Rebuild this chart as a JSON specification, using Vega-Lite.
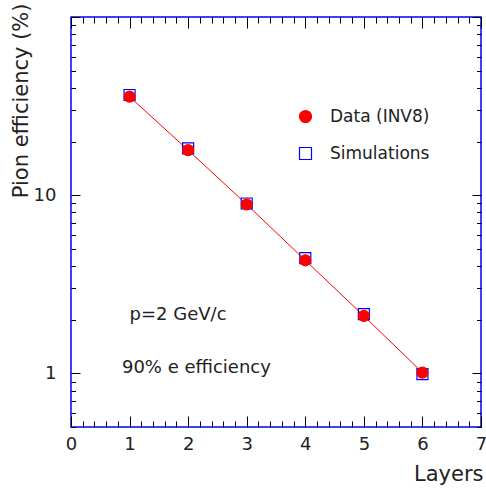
{
  "$schema": "https://vega.github.io/schema/vega-lite/v6.json",
  "width": 410,
  "height": 410,
  "autosize": {"type": "none"},
  "padding": {"left": 71, "top": 17, "right": 5, "bottom": 64},
  "background": "white",
  "config": {
    "font": "DejaVu Sans",
    "view": {"stroke": "#0000ff", "strokeWidth": 1.5},
    "legend": {
      "orient": "none",
      "legendX": 226,
      "legendY": 91,
      "padding": 0,
      "symbolSize": 144,
      "symbolStrokeWidth": 1.2,
      "labelFontSize": 17,
      "labelColor": "#222222",
      "labelOffset": 16,
      "rowPadding": 19,
      "title": null
    }
  },
  "datasets": {
    "points": [
      {"layer": 1, "eff": 36.5, "series": "Simulations"},
      {"layer": 2, "eff": 18.3, "series": "Simulations"},
      {"layer": 3, "eff": 8.98, "series": "Simulations"},
      {"layer": 4, "eff": 4.43, "series": "Simulations"},
      {"layer": 5, "eff": 2.15, "series": "Simulations"},
      {"layer": 6, "eff": 0.99, "series": "Simulations"},
      {"layer": 1, "eff": 35.7, "series": "Data (INV8)"},
      {"layer": 2, "eff": 17.9, "series": "Data (INV8)"},
      {"layer": 3, "eff": 8.87, "series": "Data (INV8)"},
      {"layer": 4, "eff": 4.31, "series": "Data (INV8)"},
      {"layer": 5, "eff": 2.10, "series": "Data (INV8)"},
      {"layer": 6, "eff": 1.01, "series": "Data (INV8)"}
    ],
    "notes": [
      {"layer": 1.0, "eff": 2.13, "text": "p=2 GeV/c"},
      {"layer": 0.87, "eff": 1.07, "text": "90% e efficiency"}
    ]
  },
  "layer": [
    {
      "data": {"name": "points"},
      "transform": [{"filter": "datum.series === 'Data (INV8)'"}],
      "mark": {"type": "line", "color": "#ff0000", "strokeWidth": 1},
      "encoding": {
        "x": {
          "field": "layer", "type": "quantitative",
          "scale": {"domain": [0, 7], "nice": false, "zero": false},
          "axis": {
            "orient": "bottom",
            "values": [0,0.2,0.4,0.6,0.8,1,1.2,1.4,1.6,1.8,2,2.2,2.4,2.6,2.8,3,3.2,3.4,3.6,3.8,4,4.2,4.4,4.6,4.8,5,5.2,5.4,5.6,5.8,6,6.2,6.4,6.6,6.8,7],
            "domain": false, "grid": false,
            "tickColor": "#000000", "tickWidth": 1,
            "tickSize": {"condition": {"test": "datum.value % 1 === 0", "value": -11}, "value": -6},
            "labelExpr": "datum.value % 1 === 0 ? '' + datum.value : ''",
            "labelPadding": 19, "labelFontSize": 18, "labelFlush": false, "labelOverlap": false,
            "labelColor": "#222222",
            "title": "Layers", "titleFontSize": 21, "titleFontWeight": "normal", "titleColor": "#222222",
            "titleAnchor": "end", "titleAlign": "right", "titleX": 412, "titleY": 53, "titleBaseline": "alphabetic"
          }
        },
        "y": {
          "field": "eff", "type": "quantitative",
          "scale": {"type": "log", "domain": [0.5, 100], "nice": false},
          "axis": {
            "orient": "left",
            "values": [0.5,0.6,0.7,0.8,0.9,1,2,3,4,5,6,7,8,9,10,20,30,40,50,60,70,80,90,100],
            "domain": false, "grid": false,
            "tickColor": "#000000", "tickWidth": 1,
            "tickSize": {"condition": {"test": "datum.value === 1 || datum.value === 10 || datum.value === 100", "value": -9}, "value": -4.5},
            "labelExpr": "datum.value === 1 || datum.value === 10 ? '' + datum.value : ''",
            "labelPadding": 24, "labelFontSize": 18, "labelOverlap": false, "labelColor": "#222222",
            "title": "Pion efficiency (%)", "titleFontSize": 21, "titleFontWeight": "normal", "titleColor": "#222222",
            "titleAngle": -90, "titleAlign": "right", "titleBaseline": "alphabetic", "titleX": -44, "titleY": -14
          }
        }
      }
    },
    {
      "data": {"name": "points"},
      "mark": {"type": "point", "size": 121, "strokeWidth": 1.2, "opacity": 1, "filled": false},
      "encoding": {
        "x": {
          "field": "layer", "type": "quantitative",
          "scale": {"domain": [0, 7], "nice": false, "zero": false},
          "axis": {
            "orient": "top",
            "values": [0,0.2,0.4,0.6,0.8,1,1.2,1.4,1.6,1.8,2,2.2,2.4,2.6,2.8,3,3.2,3.4,3.6,3.8,4,4.2,4.4,4.6,4.8,5,5.2,5.4,5.6,5.8,6,6.2,6.4,6.6,6.8,7],
            "domain": false, "grid": false, "labels": false, "title": null,
            "tickColor": "#000000", "tickWidth": 1,
            "tickSize": {"condition": {"test": "datum.value % 1 === 0", "value": -11}, "value": -6}
          }
        },
        "y": {
          "field": "eff", "type": "quantitative",
          "scale": {"type": "log", "domain": [0.5, 100], "nice": false},
          "axis": {
            "orient": "right",
            "values": [0.5,0.6,0.7,0.8,0.9,1,2,3,4,5,6,7,8,9,10,20,30,40,50,60,70,80,90,100],
            "domain": false, "grid": false, "labels": false, "title": null,
            "tickColor": "#000000", "tickWidth": 1,
            "tickSize": {"condition": {"test": "datum.value === 1 || datum.value === 10 || datum.value === 100", "value": -9}, "value": -4.5}
          }
        },
        "shape": {
          "field": "series", "type": "nominal",
          "scale": {"domain": ["Data (INV8)", "Simulations"], "range": ["circle", "square"]},
          "legend": null
        },
        "fill": {
          "field": "series", "type": "nominal",
          "scale": {"domain": ["Data (INV8)", "Simulations"], "range": ["#ff0000", "transparent"]},
          "legend": null
        },
        "color": {
          "field": "series", "type": "nominal",
          "scale": {"domain": ["Data (INV8)", "Simulations"], "range": ["#ff0000", "#0000ff"]},
          "legend": {
            "title": null,
            "encode": {
              "symbols": {
                "update": {
                  "stroke": {"signal": "datum.value === 'Simulations' ? '#0000ff' : '#ff0000'"},
                  "fill": {"signal": "datum.value === 'Simulations' ? 'transparent' : '#ff0000'"},
                  "shape": {"signal": "datum.value === 'Simulations' ? 'square' : 'circle'"},
                  "strokeWidth": {"value": 1.2},
                  "opacity": {"value": 1}
                }
              }
            }
          }
        }
      }
    },
    {
      "data": {"name": "notes"},
      "mark": {"type": "text", "align": "left", "baseline": "middle", "fontSize": 18, "color": "#222222"},
      "encoding": {
        "x": {"field": "layer", "type": "quantitative", "scale": {"domain": [0, 7], "nice": false, "zero": false}, "axis": null},
        "y": {"field": "eff", "type": "quantitative", "scale": {"type": "log", "domain": [0.5, 100], "nice": false}, "axis": null},
        "text": {"field": "text"}
      }
    }
  ],
  "resolve": {"axis": {"x": "independent", "y": "independent"}}
}
